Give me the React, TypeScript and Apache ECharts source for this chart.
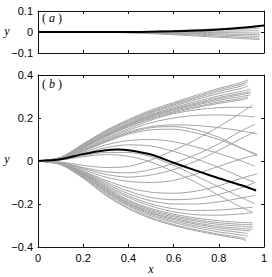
import React, { useEffect, useRef } from "react";
import * as echarts from "echarts";

// ---------- shared ----------
const X_TICKS_MIN = 0;
const X_TICKS_MAX = 1;
const X_TICK_STEP = 0.2;

// ---------- panel (a) ----------
const A_X = [0, 0.1, 0.2, 0.3, 0.4, 0.5, 0.6, 0.7, 0.8, 0.9, 0.98];
const A_BLACK_X = [0, 0.1, 0.2, 0.3, 0.4, 0.5, 0.6, 0.7, 0.8, 0.9, 1.0];
const A_BLACK_Y = [0, 0, 0, 0, 0, 0.001, 0.003, 0.007, 0.012, 0.02, 0.031];
const A_GRAY_Y = [
  [0, 0, 0, 0, 0.001, 0.003, 0.007, 0.011, 0.016, 0.021, 0.026],
  [0, 0, 0, 0, 0.001, 0.002, 0.005, 0.008, 0.011, 0.014, 0.017],
  [0, 0, 0, 0, 0, 0.001, 0.002, 0.003, 0.004, 0.005, 0.006],
  [0, 0, 0, 0, 0, 0, -0.001, -0.002, -0.003, -0.004, -0.005],
  [0, 0, 0, 0, -0.001, -0.003, -0.005, -0.007, -0.009, -0.011, -0.013],
  [0, 0, 0, 0, -0.001, -0.004, -0.007, -0.01, -0.014, -0.018, -0.021],
  [0, 0, 0, -0.001, -0.003, -0.006, -0.01, -0.015, -0.02, -0.025, -0.03],
  [0, 0, 0, -0.001, -0.004, -0.008, -0.013, -0.019, -0.025, -0.031, -0.036],
];

// ---------- panel (b) ----------
const B_X = [0, 0.1, 0.2, 0.3, 0.4, 0.5, 0.6, 0.7, 0.8, 0.9];
const B_BLACK_X = [0, 0.1, 0.2, 0.3, 0.35, 0.4, 0.5, 0.6, 0.7, 0.8, 0.9, 0.965];
const B_BLACK_Y = [0, 0.008, 0.032, 0.05, 0.053, 0.05, 0.03, -0.008, -0.045, -0.08, -0.113, -0.137];

// upper bundle (values at B_X, then final value at end x)
const UPPER_END_X = [0.93, 0.93, 0.92, 0.93, 0.94, 0.94, 0.94, 0.94, 0.93, 0.93];
const UPPER_Y = [
  [0, 0.017, 0.08, 0.142, 0.193, 0.237, 0.272, 0.306, 0.338, 0.365, 0.378],
  [0, 0.016, 0.078, 0.138, 0.188, 0.231, 0.266, 0.299, 0.331, 0.357, 0.369],
  [0, 0.016, 0.076, 0.135, 0.184, 0.227, 0.261, 0.293, 0.323, 0.349, 0.359],
  [0, 0.015, 0.072, 0.13, 0.178, 0.222, 0.255, 0.286, 0.314, 0.338, 0.35],
  [0, 0.015, 0.07, 0.126, 0.174, 0.216, 0.248, 0.277, 0.303, 0.324, 0.334],
  [0, 0.014, 0.067, 0.122, 0.17, 0.212, 0.243, 0.27, 0.295, 0.315, 0.323],
  [0, 0.014, 0.066, 0.12, 0.168, 0.209, 0.239, 0.265, 0.289, 0.309, 0.317],
  [0, 0.013, 0.064, 0.118, 0.165, 0.205, 0.235, 0.26, 0.282, 0.3, 0.307],
  [0, 0.013, 0.062, 0.115, 0.161, 0.2, 0.229, 0.253, 0.274, 0.291, 0.298],
  [0, 0.012, 0.06, 0.112, 0.158, 0.196, 0.225, 0.248, 0.268, 0.284, 0.292],
];

// lower bundle
const LOWER_END_X = [0.92, 0.92, 0.93, 0.93, 0.94, 0.95, 0.95, 0.95, 0.95];
const LOWER_Y = [
  [0, -0.017, -0.08, -0.16, -0.222, -0.268, -0.3, -0.325, -0.345, -0.363, -0.37],
  [0, -0.016, -0.078, -0.157, -0.218, -0.263, -0.295, -0.32, -0.34, -0.356, -0.362],
  [0, -0.016, -0.074, -0.15, -0.21, -0.255, -0.286, -0.31, -0.33, -0.344, -0.35],
  [0, -0.015, -0.071, -0.145, -0.205, -0.249, -0.279, -0.302, -0.32, -0.333, -0.338],
  [0, -0.015, -0.068, -0.14, -0.2, -0.243, -0.272, -0.294, -0.311, -0.322, -0.325],
  [0, -0.014, -0.066, -0.137, -0.197, -0.239, -0.267, -0.288, -0.304, -0.314, -0.317],
  [0, -0.014, -0.063, -0.132, -0.192, -0.233, -0.26, -0.28, -0.295, -0.304, -0.307],
  [0, -0.013, -0.061, -0.128, -0.187, -0.227, -0.254, -0.273, -0.287, -0.295, -0.297],
  [0, -0.013, -0.058, -0.123, -0.181, -0.221, -0.247, -0.265, -0.278, -0.286, -0.288],
];

// crossing lines: rise first, then fall
const FALL_END_X = [0.95, 0.96, 0.97, 0.97, 0.96, 0.96, 0.96, 0.95, 0.97];
const FALL_Y = [
  [0, 0.012, 0.055, 0.105, 0.15, 0.19, 0.22, 0.238, 0.248, 0.25, 0.248],
  [0, 0.011, 0.052, 0.1, 0.143, 0.178, 0.2, 0.212, 0.214, 0.21, 0.205],
  [0, 0.011, 0.049, 0.094, 0.135, 0.16, 0.168, 0.165, 0.155, 0.14, 0.125],
  [0, 0.01, 0.046, 0.088, 0.125, 0.145, 0.148, 0.13, 0.1, 0.06, 0.03],
  [0, 0.009, 0.04, 0.075, 0.095, 0.1, 0.09, 0.065, 0.035, 0, -0.025],
  [0, 0.008, 0.035, 0.062, 0.075, 0.07, 0.045, 0.01, -0.03, -0.075, -0.1],
  [0, 0.006, 0.025, 0.04, 0.04, 0.02, -0.02, -0.07, -0.12, -0.17, -0.2],
  [0, 0.005, 0.02, 0.03, 0.022, -0.005, -0.05, -0.1, -0.16, -0.215, -0.24],
  [0, 0.01, 0.048, 0.092, 0.13, 0.155, 0.16, 0.145, 0.11, 0.06, 0.025],
];

// crossing lines: fall first, then rise
const RISE_END_X = [0.95, 0.96, 0.97, 0.97, 0.96, 0.96, 0.95, 0.95, 0.96];
const RISE_Y = [
  [0, -0.005, -0.02, -0.03, -0.025, 0.005, 0.05, 0.1, 0.16, 0.225, 0.262],
  [0, -0.007, -0.03, -0.05, -0.055, -0.04, -0.01, 0.03, 0.08, 0.14, 0.17],
  [0, -0.009, -0.04, -0.075, -0.095, -0.1, -0.09, -0.06, -0.025, 0.01, 0.03],
  [0, -0.01, -0.047, -0.09, -0.125, -0.145, -0.15, -0.14, -0.115, -0.08, -0.06],
  [0, -0.011, -0.05, -0.098, -0.14, -0.17, -0.18, -0.175, -0.155, -0.125, -0.1],
  [0, -0.012, -0.054, -0.105, -0.152, -0.185, -0.2, -0.2, -0.19, -0.172, -0.16],
  [0, -0.012, -0.057, -0.112, -0.162, -0.2, -0.222, -0.23, -0.228, -0.22, -0.215],
  [0, -0.012, -0.058, -0.118, -0.17, -0.21, -0.236, -0.25, -0.252, -0.246, -0.24],
  [0, -0.008, -0.034, -0.062, -0.075, -0.065, -0.04, 0.0, 0.05, 0.105, 0.135],
];

const GRAY = "#a4a4a4";
const AXIS_COLOR = "#111";
const TICK_FONT = "'Liberation Sans', Arial, sans-serif";
const MATH_FONT = "'Liberation Serif', 'DejaVu Serif', serif";

function fmt(v: number): string {
  if (Math.abs(v) < 1e-9) return "0";
  const s = String(Math.round(v * 1000) / 1000);
  return s.replace("-", "\u2212");
}

function grayLine(xs: number[], ys: number[], xi: number, yi: number) {
  return {
    type: "line",
    xAxisIndex: xi,
    yAxisIndex: yi,
    data: xs.map((x, i) => [x, ys[i]]),
    showSymbol: false,
    symbol: "none",
    smooth: 0.3,
    silent: true,
    lineStyle: { color: GRAY, width: 1 },
    z: 2,
  };
}

function bundle(rows: number[][], endX: number[], xi: number, yi: number) {
  return rows.map((ys, k) => grayLine([...B_X, endX[k]], ys, xi, yi));
}

function xAxisPair(gridIndex: number, showLabels: boolean) {
  const base = {
    type: "value",
    gridIndex,
    min: X_TICKS_MIN,
    max: X_TICKS_MAX,
    interval: X_TICK_STEP,
    splitLine: { show: false },
    axisLine: { show: true, onZero: false, lineStyle: { color: AXIS_COLOR, width: 1 } },
    axisTick: { show: true, inside: true, length: 3, lineStyle: { color: AXIS_COLOR } },
  };
  return [
    {
      ...base,
      position: "bottom",
      axisLabel: {
        show: showLabels,
        margin: 5,
        color: "#000",
        fontSize: 11,
        fontFamily: TICK_FONT,
        formatter: fmt,
      },
    },
    { ...base, position: "top", axisLabel: { show: false } },
  ];
}

function yAxisPair(gridIndex: number, min: number, max: number, interval: number) {
  const base = {
    type: "value",
    gridIndex,
    min,
    max,
    interval,
    splitLine: { show: false },
    axisLine: { show: true, onZero: false, lineStyle: { color: AXIS_COLOR, width: 1 } },
    axisTick: { show: true, inside: true, length: 3, lineStyle: { color: AXIS_COLOR } },
  };
  return [
    {
      ...base,
      position: "left",
      axisLabel: {
        show: true,
        margin: 5,
        color: "#000",
        fontSize: 11,
        fontFamily: TICK_FONT,
        formatter: fmt,
      },
    },
    { ...base, position: "right", axisLabel: { show: false } },
  ];
}

function panelLabel(letter: string, x: number, y: number) {
  return {
    type: "text",
    x,
    y,
    style: {
      text: `{p|(}{i|${letter}}{p|)}`,
      rich: {
        p: { fontFamily: MATH_FONT, fontSize: 12, fill: "#000", padding: [0, 1, 0, 1] },
        i: { fontFamily: MATH_FONT, fontSize: 12, fontStyle: "italic", fill: "#000", padding: [0, 2, 0, 2] },
      },
      verticalAlign: "middle",
    },
    z: 10,
  };
}

function mathText(t: string, x: number, y: number) {
  return {
    type: "text",
    x,
    y,
    style: {
      text: t,
      fontFamily: MATH_FONT,
      fontStyle: "italic",
      fontSize: 12,
      fill: "#000",
      align: "center",
      verticalAlign: "middle",
    },
    z: 10,
  };
}

export default function App() {
  const ref = useRef<HTMLDivElement>(null);

  useEffect(() => {
    if (!ref.current) return;
    const chart = echarts.init(ref.current, null, { renderer: "svg" });

    const series: any[] = [];
    // panel (a)
    A_GRAY_Y.forEach((ys) => series.push(grayLine(A_X, ys, 0, 0)));
    series.push({
      type: "line",
      xAxisIndex: 0,
      yAxisIndex: 0,
      data: A_BLACK_X.map((x, i) => [x, A_BLACK_Y[i]]),
      showSymbol: false,
      symbol: "none",
      smooth: 0.3,
      silent: true,
      lineStyle: { color: "#000", width: 2 },
      z: 5,
    });
    // panel (b)
    series.push(...bundle(UPPER_Y, UPPER_END_X, 2, 2));
    series.push(...bundle(LOWER_Y, LOWER_END_X, 2, 2));
    series.push(...bundle(FALL_Y, FALL_END_X, 2, 2));
    series.push(...bundle(RISE_Y, RISE_END_X, 2, 2));
    series.push({
      type: "line",
      xAxisIndex: 2,
      yAxisIndex: 2,
      data: B_BLACK_X.map((x, i) => [x, B_BLACK_Y[i]]),
      showSymbol: false,
      symbol: "none",
      smooth: 0.3,
      silent: true,
      lineStyle: { color: "#000", width: 2 },
      z: 5,
    });

    chart.setOption({
      animation: false,
      backgroundColor: "#fff",
      grid: [
        { left: 38, top: 11, width: 226, height: 42 },
        { left: 38, top: 75, width: 226, height: 172 },
      ],
      xAxis: [...xAxisPair(0, false), ...xAxisPair(1, true)],
      yAxis: [...yAxisPair(0, -0.1, 0.1, 0.1), ...yAxisPair(1, -0.4, 0.4, 0.2)],
      series,
      graphic: [
        panelLabel("a", 41, 18),
        panelLabel("b", 41, 84),
        mathText("y", 7, 31),
        mathText("y", 7, 159),
        mathText("x", 151, 269),
      ],
    });

    return () => chart.dispose();
  }, []);

  return (
    <div
      ref={ref}
      style={{ position: "absolute", left: 0, top: 0, width: 272, height: 277, background: "#fff" }}
    />
  );
}
